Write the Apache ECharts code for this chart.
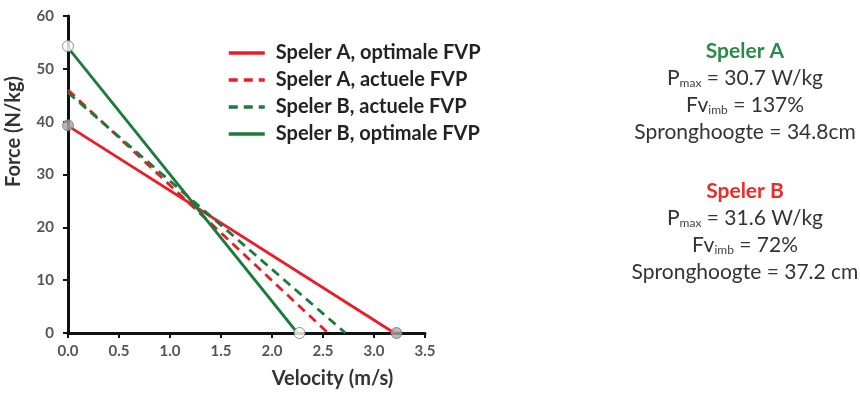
<!DOCTYPE html>
<html>
<head>
<meta charset="utf-8">
<script src="https://cdn.jsdelivr.net/npm/echarts@6/dist/echarts.min.js"></script>
<style>
  html, body { margin: 0; padding: 0; background: #fff; }
  #chart { width: 860px; height: 394px; }
</style>
</head>
<body>
<div id="chart"></div>
<script>
// force-velocity profielen: [velocity, force]
const seriesNames = ['Speler A, optimale FVP', 'Speler A, actuele FVP', 'Speler B, actuele FVP', 'Speler B, optimale FVP']
const aOptimal = [[0, 39.2], [3.2, 0]]
const aActual = [[0, 46], [2.55, 0]]
const bActual = [[0, 45.5], [2.72, 0]]
const bOptimal = [[0, 54], [2.25, 0]]
// eindpunten met cirkels
const greyDots = [[0, 39.3], [3.22, 0]]
const whiteDots = [[0, 54.3], [2.27, 0]]

const xTicks = { min: 0, max: 3.5, interval: 0.5 }
const yTicks = { min: 0, max: 60, interval: 10 }

const RED = '#ec1c24'
const GREEN = '#1c7a3c'
const FONT = 'Lato, "Open Sans", sans-serif'

const chart = echarts.init(document.getElementById('chart'))

function lineSeries(name, data, color, dashed) {
  return {
    name,
    type: 'line',
    data,
    symbol: 'none',
    z: 3,
    lineStyle: { color, width: 2.8, type: dashed ? [9, 6] : 'solid' },
    itemStyle: { color }
  }
}

function dotSeries(data, fill) {
  return {
    type: 'scatter',
    data,
    symbol: 'circle',
    symbolSize: 11,
    z: 5,
    silent: true,
    itemStyle: { color: fill, borderColor: '#777', borderWidth: 1 }
  }
}

function statsBlock(title, color, top, pmax, fv, jump) {
  const m = { fontSize: 21, fontFamily: FONT, fill: '#333', lineHeight: 27 }
  const s = { fontSize: 12, fontFamily: FONT, fill: '#444', lineHeight: 27, padding: [10, 0, 0, 0] }
  return {
    type: 'text',
    x: 745,
    y: top,
    style: {
      text: `{t|${title}}\n{m|P}{s|max}{m| = ${pmax}}\n{m|Fv}{s|imb}{m| = ${fv}}\n{m|Spronghoogte = ${jump}}`,
      align: 'center',
      rich: {
        t: { fontSize: 21, fontWeight: 'bold', fontFamily: FONT, fill: color, lineHeight: 27 },
        m,
        s
      }
    }
  }
}

const option = {
  animation: false,
  textStyle: { fontFamily: FONT },
  grid: { left: 68, top: 16, width: 357, height: 317 },
  legend: {
    data: seriesNames,
    orient: 'vertical',
    left: 222,
    top: 38,
    itemWidth: 36,
    itemHeight: 14,
    itemGap: 7,
    itemStyle: { opacity: 0 },
    lineStyle: { width: 3.5 },
    textStyle: { fontSize: 20, fontWeight: 'bold', color: '#222', fontFamily: FONT, padding: [0, 0, 0, 6] }
  },
  xAxis: {
    type: 'value',
    min: xTicks.min,
    max: xTicks.max,
    interval: xTicks.interval,
    name: 'Velocity (m/s)',
    nameLocation: 'middle',
    nameGap: 36,
    nameTextStyle: { fontSize: 20, fontWeight: 'bold', color: '#333', padding: [0, 0, 0, 172] },
    splitLine: { show: false },
    axisLine: { lineStyle: { color: '#111', width: 3 } },
    axisTick: { length: 5, lineStyle: { color: '#111', width: 2 } },
    axisLabel: { fontSize: 15, fontWeight: 'bold', color: '#555', margin: 11, formatter: v => v.toFixed(1) }
  },
  yAxis: {
    type: 'value',
    min: yTicks.min,
    max: yTicks.max,
    interval: yTicks.interval,
    name: 'Force (N/kg)',
    nameLocation: 'middle',
    nameGap: 44,
    nameRotate: 90,
    nameTextStyle: { fontSize: 20, fontWeight: 'bold', color: '#333', padding: [0, 0, 0, 86] },
    splitLine: { show: false },
    axisLine: { show: true, lineStyle: { color: '#111', width: 3 } },
    axisTick: { show: true, length: 5, lineStyle: { color: '#111', width: 2 } },
    axisLabel: { fontSize: 15, fontWeight: 'bold', color: '#555', margin: 14 }
  },
  series: [
    lineSeries(seriesNames[0], aOptimal, RED, false),
    lineSeries(seriesNames[1], aActual, RED, true),
    lineSeries(seriesNames[2], bActual, GREEN, true),
    lineSeries(seriesNames[3], bOptimal, GREEN, false),
    dotSeries(greyDots, '#a6a6a6'),
    dotSeries(whiteDots, '#ffffff')
  ],
  graphic: [
    statsBlock('Speler A', '#2a8a48', 38, '30.7 W/kg', '137%', '34.8cm'),
    statsBlock('Speler B', '#ee2a2a', 178, '31.6 W/kg', '72%', '37.2 cm')
  ]
}

chart.setOption(option)
window.addEventListener('resize', () => chart.resize())
</script>
</body>
</html>
